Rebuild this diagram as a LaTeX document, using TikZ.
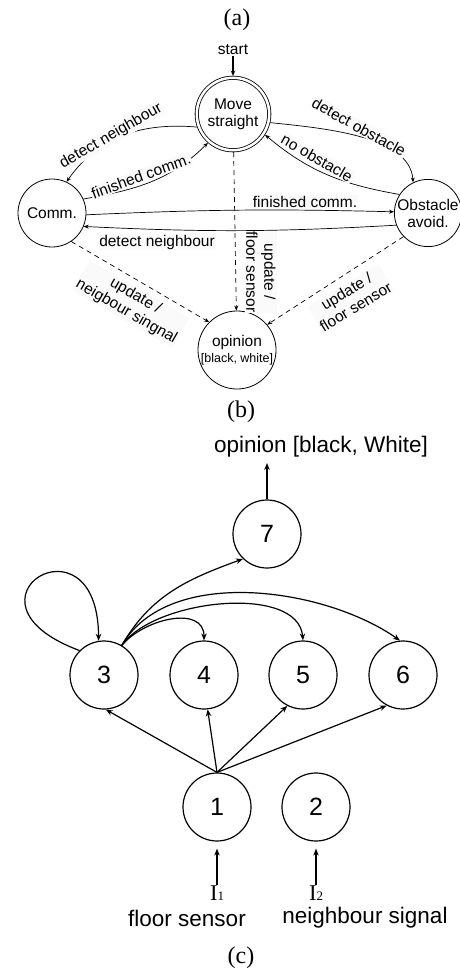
\documentclass[tikz,border=0pt]{standalone}
\usepackage{fontspec}
\setmainfont{Liberation Serif}
\newfontfamily\arial{Liberation Sans}
\usetikzlibrary{arrows.meta}
\begin{document}
\begin{tikzpicture}[x=1pt,y=1pt,
  st/.style={circle,draw,line width=0.8pt,inner sep=0pt,align=center,font=\arial\fontsize{15.5}{17}\selectfont},
  lab/.style={font=\arial\fontsize{15.5}{18}\selectfont,inner sep=1pt,align=center,fill=black!2},
  ea/.style={line width=0.7pt,-{Stealth[length=5pt,width=4pt]}},
  da/.style={ea,dash pattern=on 5pt off 4pt},
  nb/.style={circle,draw,line width=1.2pt,minimum size=68pt,inner sep=0pt,font=\arial\fontsize{25}{25}\selectfont},
  eb/.style={line width=1.2pt,-{Stealth[length=7pt,width=5.5pt]}},
  tb/.style={font=\arial\fontsize{22.5}{24}\selectfont,inner sep=1pt},
  captxt/.style={font=\fontsize{24}{24}\selectfont,inner sep=0pt}
]
\useasboundingbox (0,0) rectangle (460,-971);
% ---------- (a) ----------
\node[captxt] (lbla) at (237,-20) {(a)};
\node[lab,fill=none] (start) at (233,-50) {start};
\node[st,double,double distance=2.5pt,minimum size=72.5pt,outer sep=2pt] (ms) at (233,-114) {Move\\straight};
\node[st,minimum size=68pt] (comm) at (52,-213) {Comm.};
\node[st,minimum size=64pt] (obs) at (428,-213) {Obstacle\\avoid.};
\node[st,minimum size=74pt] (op) at (237,-350) {opinion\\[-1pt]{\fontsize{12.5}{13}\selectfont [black, white]}};

\draw[line width=1.1pt,-{Stealth[length=5pt,width=4.5pt]}] (start) -- (ms);

\draw[ea] (ms.200) to[out=175,in=55] (comm.65);
\node[lab,rotate=30] (l1) at (111,-136) {detect neighbour};
\draw[ea] (comm.24) to[out=10,in=225] (ms.229);
\node[lab,rotate=20] (l2) at (141,-176) {finished comm.};
\draw[ea] (ms.-13) .. controls (320,-128) and (410,-135) .. (obs.116);
\node[lab,rotate=-29] (l3) at (359,-127) {detect obstacle};
\draw[ea] (obs.147) to[out=170,in=-40] (ms.-33);
\node[lab,rotate=-30] (l4) at (317,-158) {no obstacle};
\draw[ea] (comm.-3) to[bend left=2] (obs.178);
\node[lab] (l5) at (305,-202) {finished comm.};
\draw[ea] (obs.201) to[bend left=3] (comm.-23);
\node[lab] (l6) at (157,-242) {detect neighbour};
\draw[da] (ms) -- (op);
\node[lab,rotate=-90] (l7) at (261,-272) {update /\\floor sensor};
\draw[da] (comm.-56) -- (op.135);
\node[lab,rotate=-30] (l8) at (131,-304) {update /\\neigbour singnal};
\draw[da] (obs.224) -- (op.40);
\node[lab,rotate=31] (l9) at (351,-299) {update /\\floor sensor};

% ---------- (b) ----------
\node[captxt] (lblb) at (241,-412) {(b)};
\node[tb] (optxt) at (321,-447) {opinion [black, White]};
\node[nb] (n7) at (267,-534) {7};
\node[nb] (n3) at (104,-675) {3};
\node[nb] (n4) at (204,-675) {4};
\node[nb] (n5) at (303,-675) {5};
\node[nb] (n6) at (403,-675) {6};
\node[nb] (n1) at (217,-807) {1};
\node[nb] (n2) at (316,-807) {2};
\node[font=\fontsize{22.5}{22}\selectfont,inner sep=0pt] (i1) at (217,-893) {I{\fontsize{13}{13}\selectfont 1}};
\node[font=\fontsize{22.5}{22}\selectfont,inner sep=0pt] (i2) at (316,-893) {I{\fontsize{13}{13}\selectfont 2}};
\node[tb] (fs) at (187,-918) {floor sensor};
\node[tb] (ns) at (365,-918) {neighbour signal};
\node[captxt] (lblc) at (241,-958) {(c)};

\coordinate (o7) at (267,-463);
\draw[eb] (n7) -- (o7);
\draw[eb,shorten >=7pt] (i1) -- (n1);
\draw[eb,shorten >=7pt] (i2) -- (n2);

\draw[eb] (n1.north) -- (n3.-87);
\draw[eb] (n1.north) -- (n4.-84);
\draw[eb] (n1.north) -- (n5.-117);
\draw[eb] (n1.north) -- (n6.-118);

\draw[eb] (n3.59) to[out=60,in=200] (n7.226);
\draw[eb] (n3.59) to[out=50,in=90,looseness=1.1] (n4.90);
\draw[eb] (n3.59) to[out=55,in=95,looseness=0.8] (n5.90);
\draw[eb] (n3.59) to[out=60,in=145,looseness=0.85] (n6.95);
\draw[eb] (n3.135) .. controls (-53.6,-601) and (98,-508) .. (n3.99);
\end{tikzpicture}
\end{document}
